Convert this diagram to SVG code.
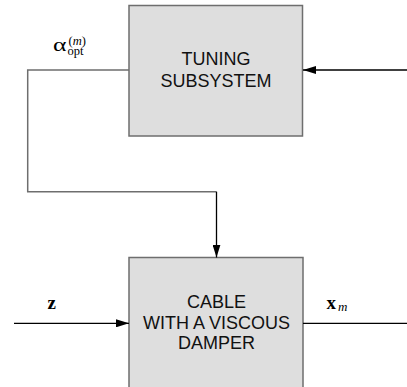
<svg xmlns="http://www.w3.org/2000/svg" width="407" height="387" viewBox="0 0 407 387">
<style>
.box{fill:#dedede;stroke:#6e6e6e;stroke-width:1.5}
.lbl{font-family:"Liberation Sans",Arial,sans-serif;font-size:18px;fill:#111;text-anchor:middle}
.wire{fill:none;stroke:#000;stroke-width:1.3}
.gwire{fill:none;stroke:#6e6e6e;stroke-width:1.5}
.math{font-family:"Liberation Serif","Times New Roman",serif;fill:#000}
</style>
<defs>
<marker id="arr" viewBox="0 0 13 8" refX="13" refY="4" markerWidth="13" markerHeight="8" markerUnits="userSpaceOnUse" orient="auto">
<path d="M0,0 L13,4 L0,8 Z" fill="#000"/>
</marker>
</defs>
<g id="tuning">
<rect class="box" x="129" y="5.5" width="173.5" height="130.5"/>
<text class="lbl" x="216" y="65">TUNING</text>
<text class="lbl" x="216" y="86.7">SUBSYSTEM</text>
</g>
<g id="cable">
<rect class="box" x="129" y="257.5" width="174" height="140"/>
<text class="lbl" x="216.5" y="308.3">CABLE</text>
<text class="lbl" x="216.5" y="329">WITH A VISCOUS</text>
<text class="lbl" x="216.5" y="349.3">DAMPER</text>
</g>
<g id="connectors">
<path class="wire" d="M407,70 L303,70" marker-end="url(#arr)"/>
<path class="gwire" d="M129,70 L27.7,70 L27.7,191.7 L216.5,191.7"/>
<path class="wire" d="M216.5,191.7 L216.5,257.5" marker-end="url(#arr)"/>
<path class="wire" d="M14,323.3 L129,323.3" marker-end="url(#arr)"/>
<path class="wire" d="M303,323.3 L407,323.3"/>
</g>
<g id="labels">
<text class="math" font-size="19" transform="translate(53,51) scale(1.35,1)">α</text>
<text class="math" x="68.5" y="44.5" font-size="12.5"><tspan>(</tspan><tspan font-style="italic">m</tspan><tspan>)</tspan></text>
<text class="math" x="67.5" y="55" font-size="12.5">opt</text>
<text class="math" x="47.5" y="308.5" font-size="19" font-weight="bold">z</text>
<text class="math" x="326.5" y="308.5" font-size="19" font-weight="bold">x</text>
<text class="math" x="338" y="311" font-size="13" font-style="italic">m</text>
</g>
</svg>
